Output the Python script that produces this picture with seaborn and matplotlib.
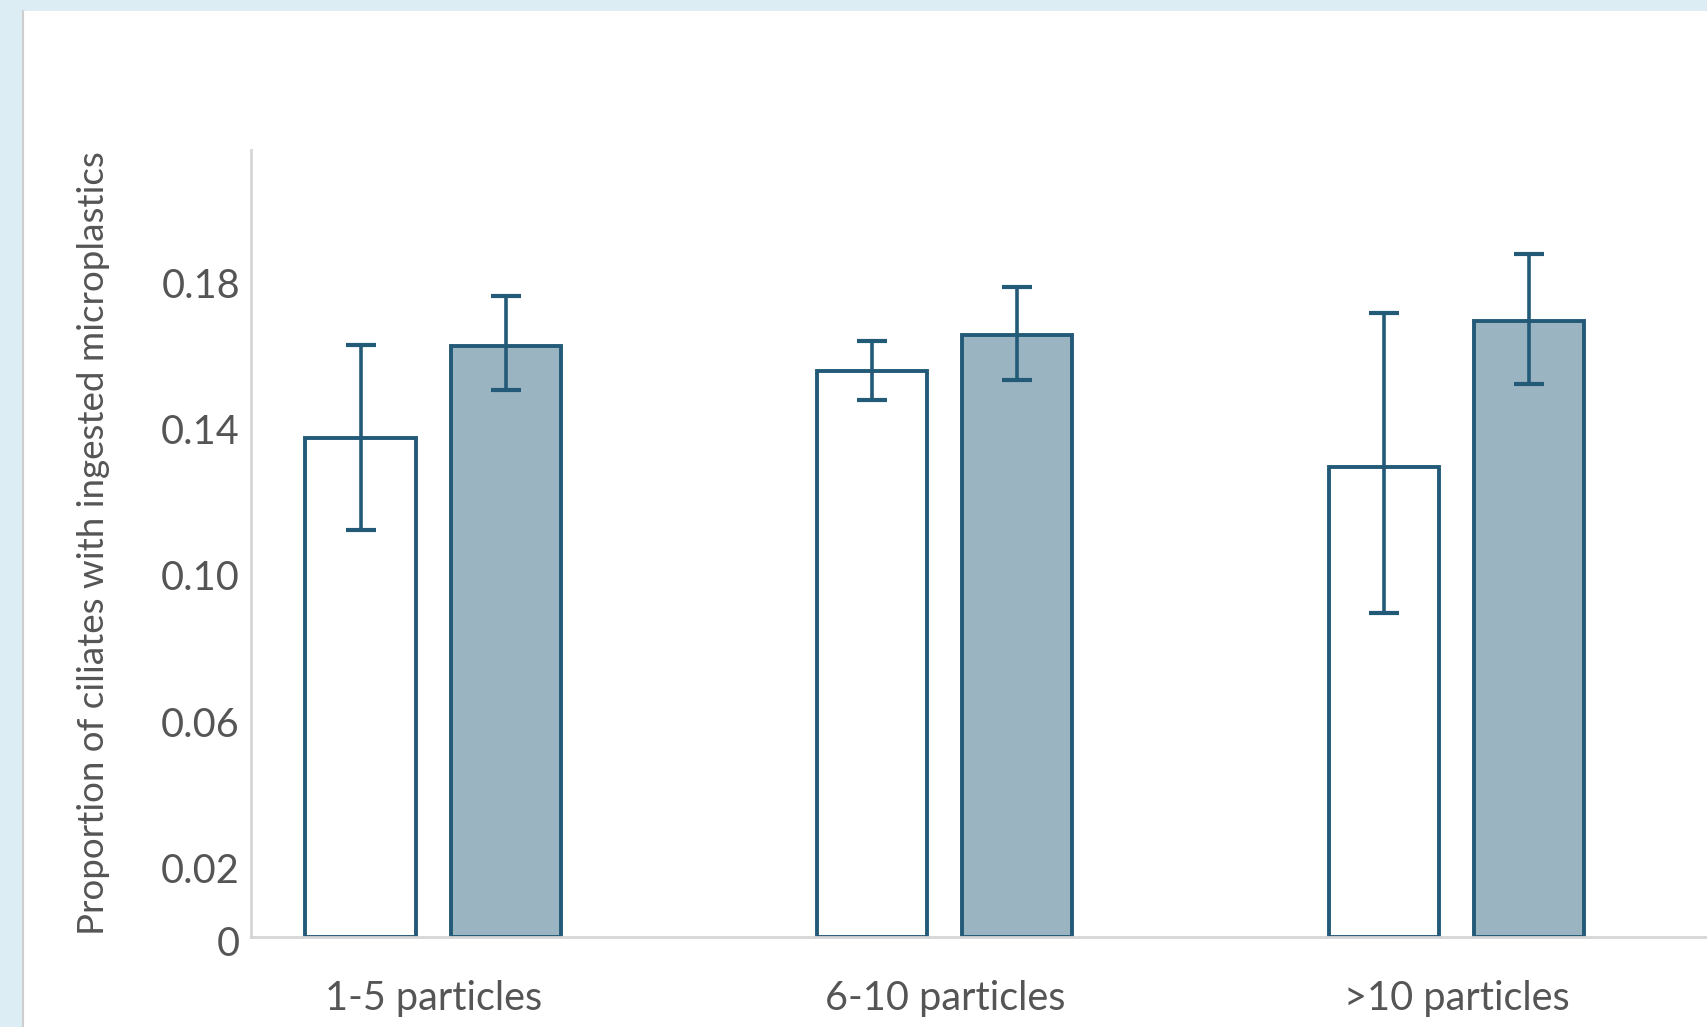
import pandas as pd
import matplotlib.pyplot as plt
import matplotlib.transforms as mtransforms
import seaborn as sns

# dados
categorias = ["1-5 particles", "6-10 particles", ">10 particles"]
series = ["Series 1", "Series 2"]
valores_s1 = [0.1364, 0.1546, 0.1284]
valores_s2 = [0.1614, 0.1644, 0.1682]
erro_inf_s1 = [0.1111, 0.1468, 0.0886]
erro_sup_s1 = [0.1617, 0.1628, 0.1706]
erro_inf_s2 = [0.1495, 0.1522, 0.1510]
erro_sup_s2 = [0.1751, 0.1775, 0.1867]
ticks_y = [0, 0.02, 0.06, 0.10, 0.14, 0.18]
rotulos_y = ["0", "0.02", "0.06", "0.10", "0.14", "0.18"]

df = pd.DataFrame({
    "Categoria": categorias * 2,
    "Serie": [series[0]] * 3 + [series[1]] * 3,
    "Valor": valores_s1 + valores_s2,
})

azul = "#235a78"
preenchimento = "#9bb4c1"
cinza_texto = "#555555"
cinza_eixo = "#d6d6d6"

sns.set_style("white")
plt.rcParams["font.family"] = ["Lato", "DejaVu Sans"]

fig = plt.figure(figsize=(17.07, 10.27), dpi=100, facecolor="#dceef4")
# painel branco atras do grafico
fig.patches.append(plt.Rectangle((23 / 1707, 0), 1, 1 - 11 / 1027, transform=fig.transFigure,
                                 facecolor="white", edgecolor="none", zorder=-2))
fig.lines.append(plt.Line2D([23 / 1707, 23 / 1707], [0, 1 - 11 / 1027], transform=fig.transFigure,
                            color="#cfcfcf", lw=1.5, zorder=-1))

ax = fig.add_axes([251 / 1707, 1 - 937 / 1027, 1 - 251 / 1707, (937 - 150) / 1027])
ax.set_facecolor("none")
ax.set_zorder(1)

sns.barplot(
    data=df, x="Categoria", y="Valor", hue="Serie", order=categorias, hue_order=series,
    palette={series[0]: "white", series[1]: preenchimento}, saturation=1,
    edgecolor=azul, linewidth=2.8, width=0.567, gap=0.24, legend=False, ax=ax, zorder=2,
)

# barras de erro
limites = [(erro_inf_s1, erro_sup_s1), (erro_inf_s2, erro_sup_s2)]
vals = [valores_s1, valores_s2]
for cont, (lo, hi), v in zip(ax.containers, limites, vals):
    xs = [b.get_x() + b.get_width() / 2 for b in cont]
    yerr = [[a - b for a, b in zip(v, lo)], [b - a for a, b in zip(v, hi)]]
    ax.errorbar(xs, v, yerr=yerr, fmt="none", ecolor=azul, elinewidth=2.6,
                capsize=11, capthick=3, zorder=3)

ax.set_xlim(-0.356, 2.49)
ax.set_ylim(0, 0.215)
ax.set_yticks(ticks_y)
ax.set_yticklabels(rotulos_y)
ax.tick_params(axis="both", length=0, labelsize=28.5, colors=cinza_texto)
ax.tick_params(axis="y", pad=8)
ax.tick_params(axis="x", pad=31)
desloc = mtransforms.ScaledTranslation(0, -0.045, fig.dpi_scale_trans)
for lab in ax.get_yticklabels():
    lab.set_transform(lab.get_transform() + desloc)

ax.set_xlabel("")
ax.set_ylabel("Proportion of ciliates with ingested microplastics", fontsize=26.5,
              color=cinza_texto)
ax.yaxis.set_label_coords(-0.097, 0.5)

for lado in ["top", "right"]:
    ax.spines[lado].set_visible(False)
for lado in ["left", "bottom"]:
    ax.spines[lado].set_color(cinza_eixo)
    ax.spines[lado].set_linewidth(2)

plt.savefig("out.png", dpi=100, facecolor=fig.get_facecolor())
plt.close()
